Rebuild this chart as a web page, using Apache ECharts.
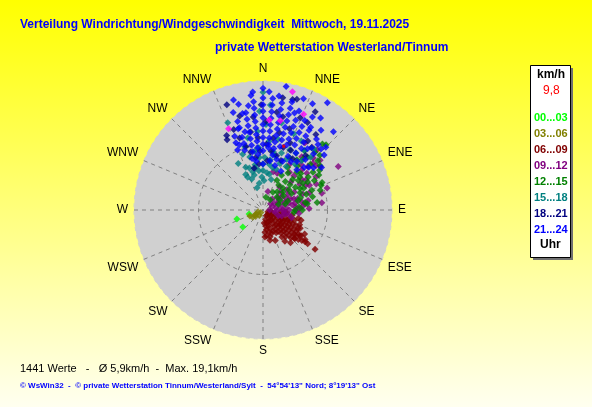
<!DOCTYPE html>
<html lang="de">
<head>
    <meta charset="UTF-8">
    <title>Verteilung Windrichtung/Windgeschwindigkeit</title>
    <script src="https://cdn.jsdelivr.net/npm/echarts@6/dist/echarts.min.js"></script>
    <style>
        body, html { margin: 0; padding: 0; width: 100%; height: 100%; }
        #chart { width: 592px; height: 407px; }
    </style>
</head>
<body>
<div id="chart"></div>
<script>
    // Himmelsrichtungen (Winkelachse, 22,5° Schritte)
    const directions = ['N', 'NNE', 'NE', 'ENE', 'E', 'ESE', 'SE', 'SSE',
                        'S', 'SSW', 'SW', 'WSW', 'W', 'WNW', 'NW', 'NNW'];
    // Uhrzeit-Klassen der Legende
    const timeBands = ['00...03', '03...06', '06...09', '09...12',
                       '12...15', '15...18', '18...21', '21...24'];
    const ringValue = 9.8;     // km/h pro Ring
    const maxSpeed = 19.6;

    // Messwerte: [Geschwindigkeit km/h, Richtung °]
    const h00_03 = [[4.2, 251], [4.0, 230], [2.2, 254]];
    const h03_06 = [[1.9, 235], [1.2, 240], [0.5, 220], [1.5, 228], [2.2, 245], [0.8, 250], [1.0, 215], [1.45, 238]];
    const h06_09 = [[9.9, 127], [8.0, 127], [6.4, 132], [6.2, 128], [6.3, 116], [4.7, 167], [3.4, 175], [4.1, 176],
        [3.5, 155], [3.4, 131], [1, 120], [1.5, 135], [2, 110], [2, 125], [2, 140], [2, 155], [2.5, 170], [2.5, 118],
        [3, 105], [3, 130], [3, 145], [3, 160], [3.5, 120], [4, 112], [4, 125], [4, 138], [4, 150], [4.5, 130],
        [4.5, 118], [5, 122], [5, 135], [5, 145], [5.5, 128], [5.5, 115], [6, 122], [6, 135], [6.8, 125], [7, 130],
        [7.3, 120], [7.5, 128], [1, 150], [1.5, 165], [2, 175], [1.2, 100], [2.8, 95], [3.6, 100], [4.2, 108],
        [5, 108], [3.8, 160], [4.2, 165], [5, 158], [5.3, 140], [6.5, 140], [6, 112], [3.2, 115], [2.4, 132], [1.8, 145],
        [1.5, 110], [1.5, 125], [2.5, 105], [2.5, 145], [2.5, 160], [3, 115], [3, 122], [3, 138], [3.5, 112],
        [3.5, 128], [3.5, 138], [3.5, 148], [4, 118], [4, 132], [4, 145], [4.5, 112], [4.5, 124], [4.5, 136],
        [4.5, 142], [5, 115], [5, 128], [5.5, 122], [5.5, 134], [6, 118], [6, 128], [6.5, 124], [6.5, 132], [7, 124],
        [7.8, 125], [8.5, 127], [3, 170], [3.5, 165], [2, 165], [4, 172], [1, 135], [0.8, 110], [5.8, 145],
        [3.5, 95], [4.5, 100], [5.5, 103], [6, 105]];
    const h09_12 = [[13.2, 60], [10.9, 53], [12, 32], [12.1, 38], [12.3, 42], [10.3, 71], [9.3, 74], [8.7, 50],
        [4.8, 50], [4.3, 36], [2.9, 15], [6, 15], [10.4, 47], [9, 83], [6, 21], [11, 44], [9.5, 58], [8, 62],
        [7.5, 70], [6.8, 55], [6, 45], [5.5, 60], [5, 70], [4.5, 80], [4, 90], [3.5, 100], [3, 75], [2.5, 85],
        [2, 60], [1.5, 70], [1, 90], [2.5, 110], [3.2, 95], [4, 65], [5, 85], [6, 78], [3.5, 55], [4.5, 58],
        [2.2, 40], [1.8, 100], [3, 108], [5.5, 95], [7, 88], [7.5, 52], [9, 40], [10, 36], [8, 30], [7, 42],
        [1.5, 50], [2, 80], [2, 95], [2.5, 65], [3, 50], [3, 90], [3.5, 70], [3.5, 85], [4, 75], [4, 100],
        [4.5, 68], [5, 78], [5, 92], [5.5, 72], [5.5, 88], [6, 85], [6.5, 82], [6.5, 68], [7, 78], [4.5, 105],
        [3.8, 45], [2.8, 58], [7, 35], [8.5, 44], [9.5, 46], [10.5, 50], [11.5, 49], [8, 55], [9, 64], [7.5, 60]];
    const h12_15 = [[13.8, 44], [13.5, 42], [11.2, 48], [9.9, 65], [8.3, 82], [6.5, 80], [4.9, 90], [4.7, 94],
        [6.2, 65], [7.3, 56], [8.5, 54], [5.6, 47], [4.1, 48], [2.9, 47], [1.9, 35], [2, 13], [3.1, 29], [6.8, 34],
        [7.7, 42], [9.5, 53], [9.2, 71], [8.9, 27], [9.2, 34], [10.5, 40], [10, 46], [8, 46], [7, 62], [6, 72],
        [5, 60], [3.8, 55], [3.5, 38], [4.5, 32], [5.5, 38], [6.5, 44], [7.5, 48], [8.5, 38], [10.5, 55], [11, 35],
        [12, 38], [9.6, 67], [6.8, 82], [5.5, 75], [7.8, 75],
        [3, 60], [4, 70], [5, 52], [6, 55], [6.5, 60], [7, 50], [8, 58], [9, 60], [10, 58], [11, 52], [12, 46],
        [7, 70], [8, 68], [5.5, 85], [6, 90], [3.5, 75], [2.5, 70], [4.5, 42], [5, 25], [6, 28], [7.5, 30],
        [9.8, 38], [11.8, 42]];
    const h15_18 = [[17.9, 0], [16, 4], [14.3, 338], [15, 358], [13, 2], [12, 356], [11.2, 348], [10, 344],
        [9, 340], [8.3, 346], [7, 338], [6.7, 342], [5.5, 346], [4.1, 352], [5.7, 6], [7.7, 8], [6.6, 13], [9.1, 18],
        [12, 29], [12.1, 40], [10.8, 42], [10, 30], [8.5, 25], [7.5, 20], [9, 352], [8, 356], [7, 0], [6, 354],
        [6, 334], [8, 332], [9.5, 356], [10.5, 5], [11, 12], [8, 2], [9, 10], [7, 350], [5, 358], [6.5, 350],
        [10, 24], [11, 35], [12.5, 22], [13.5, 12],
        [5, 340], [6, 345], [4.5, 2], [5.5, 10], [6.5, 18], [7.5, 28], [8.5, 35], [9.5, 38], [4.8, 15], [6, 0],
        [7, 8], [8.5, 12], [3.5, 345], [5.5, 335]];
    const h18_21 = [[16.9, 341], [14.7, 346], [12.6, 334], [12.0, 333], [14.2, 354], [17.3, 10], [17.4, 15],
        [15.1, 22], [16.9, 28], [14.9, 27], [17.6, 17], [13, 340], [11.5, 342], [10, 345], [9, 348], [8, 352],
        [9, 357], [10, 3], [11, 8], [12, 12], [13, 18], [11, 22], [10, 25], [9, 30], [12.5, 33], [14, 35],
        [10.5, 38], [8.5, 14], [7.5, 5], [7, 355], [6.5, 348], [13.5, 2], [15, 8], [16, 359], [12, 351], [11, 356],
        [14.5, 12], [10, 18], [9, 8], [8, 20]];
    const h21_24 = [[19.1, 10.6], [19.0, 31], [18.0, 355], [17.5, 354], [18.5, 0], [17.8, 25], [16.5, 32], [16.0, 42],
        [12.8, 43.5], [17.3, 345], [15.0, 348], [12.9, 343], [9.9, 337], [12.2, 347],
        [17, 0], [16, 0], [15, 0], [14, 0], [13, 0], [12, 0], [11, 0], [10, 0], [9, 0],
        [16.5, 355], [15.5, 355], [14.5, 355], [13.5, 355], [12.5, 355], [11.5, 355], [10.5, 355], [9.5, 355], [8.5, 355],
        [15, 350], [14, 350], [13, 350], [12, 350], [11, 350], [10, 350], [9, 350],
        [14, 344], [13, 344], [11.5, 344], [10.5, 344], [9.5, 343], [12, 339], [11, 338], [10.5, 340],
        [16, 5], [15, 5], [14, 5], [13, 5], [12, 5], [11, 5], [10, 5], [9.5, 5],
        [16.5, 10], [15.5, 10], [14.5, 10], [13.5, 10], [12.5, 10], [11.5, 10], [10.5, 10], [9.5, 10],
        [17, 15], [15, 15], [14, 15], [13, 15], [12, 15], [11, 15], [10, 15],
        [16, 20], [14.5, 20], [13.5, 20], [12.5, 20], [11.5, 20], [10.5, 20],
        [15, 25], [14, 25], [13, 25], [12, 25], [11, 26], [14.5, 30], [13, 30], [12, 31], [11, 32],
        [15, 36], [13.5, 37], [12, 38], [13, 40], [11.5, 42],
        [7.5, 352], [7, 0], [7.5, 8], [7, 15], [8, 22], [8.5, 30], [6.5, 25], [9, 35], [8, 40], [11, 54], [10, 50], [9.5, 47],
        [18, 3], [17.5, 8], [18, 20], [16, 28], [16, 15], [17, 5], [15.5, 18], [14, 30], [13.5, 45], [12.5, 48],
        [11.5, 36], [10, 40], [9, 44], [8.5, 10], [8, 15], [9, 25], [10, 30], [8, 348], [16.5, 347], [15.5, 343], [16, 352]];
    const extraPoints = [[18.5, 14], [15.8, 23], [13.7, 4], [13.8, 11], [13.4, 337]];
    const meanPoint = [[10.2, 18]];

    const bandData = [h00_03, h03_06, h06_09, h09_12, h12_15, h15_18, h18_21, h21_24];
    const bandColors = ['#00ff00', '#808000', '#800000', '#800080', '#008000', '#008080', '#000080', '#0000ff'];

    const FONT = '"Liberation Sans", Arial, sans-serif';
    const chart = echarts.init(document.getElementById('chart'));

    const series = timeBands.map(function (name, i) {
        return {
            name: name,
            type: 'scatter',
            coordinateSystem: 'polar',
            symbol: 'diamond',
            symbolSize: 7,
            data: bandData[i],
            itemStyle: { color: bandColors[i] },
            silent: true
        };
    });
    series.push({
        type: 'scatter', coordinateSystem: 'polar', symbol: 'diamond', symbolSize: 7,
        data: extraPoints, itemStyle: { color: '#ff00ff' }, silent: true
    });
    series.push({
        type: 'scatter', coordinateSystem: 'polar', symbol: 'rect', symbolSize: 3,
        data: meanPoint, itemStyle: { color: '#ff0000' }, silent: true
    });

    // Legende rechts
    const legendItems = [
        { type: 'text', left: 537, top: 69, style: { text: 'km/h', fill: '#000', font: 'bold 12px ' + FONT } },
        { type: 'text', left: 543, top: 85, style: { text: String(ringValue).replace('.', ','), fill: '#ff0000', font: '12px ' + FONT } }
    ];
    timeBands.forEach(function (name, i) {
        legendItems.push({
            type: 'text', left: 534, top: 112 + i * 16,
            style: { text: name, fill: bandColors[i], font: 'bold 11px ' + FONT }
        });
    });
    legendItems.push({ type: 'text', left: 540, top: 239, style: { text: 'Uhr', fill: '#000', font: 'bold 12px ' + FONT } });

    const option = {
        animation: false,
        backgroundColor: new echarts.graphic.LinearGradient(0, 0, 0, 1, [
            { offset: 0, color: '#ffff00' },
            { offset: 1, color: '#fffff0' }
        ]),
        polar: { center: [263, 210], radius: 129 },
        angleAxis: {
            type: 'value',
            min: 0,
            max: 360,
            interval: 22.5,
            startAngle: 90,
            clockwise: true,
            axisLine: { show: false },
            axisTick: { show: false },
            axisLabel: {
                margin: 6,
                color: '#000',
                fontSize: 12,
                fontFamily: FONT,
                formatter: function (v) { return directions[Math.round(v / 22.5) % 16]; }
            },
            splitLine: { show: true, lineStyle: { color: '#808080', width: 1, type: [4, 4] } }
        },
        radiusAxis: {
            min: 0,
            max: maxSpeed,
            interval: ringValue,
            axisLine: { show: false },
            axisTick: { show: false },
            axisLabel: { show: false },
            splitLine: { show: true, lineStyle: { color: ['#808080', '#808080', '#d0d0d0'], width: 1, type: [4, 4] } }
        },
        graphic: [
            // grauer Hintergrund der Windrose
            { type: 'circle', z: -10, shape: { cx: 263, cy: 210, r: 129 }, style: { fill: '#d0d0d0' } },
            { type: 'text', left: 20, top: 19, style: { text: 'Verteilung Windrichtung/Windgeschwindigkeit  Mittwoch, 19.11.2025', fill: '#0000ff', font: 'bold 12px ' + FONT } },
            { type: 'text', left: 215, top: 42, style: { text: 'private Wetterstation Westerland/Tinnum', fill: '#0000ff', font: 'bold 12px ' + FONT } },
            { type: 'rect', shape: { x: 533, y: 68, width: 40, height: 192 }, style: { fill: '#707070' } },
            { type: 'rect', shape: { x: 530.5, y: 65.5, width: 40, height: 192 }, style: { fill: '#ffffff', stroke: '#000', lineWidth: 1 } },
            { type: 'group', children: legendItems },
            { type: 'text', left: 20, top: 363, style: { text: '1441 Werte   -   Ø 5,9km/h  -  Max. 19,1km/h', fill: '#000', font: '11px ' + FONT } },
            { type: 'text', left: 20, top: 382, style: { text: '© WsWin32  -  © private Wetterstation Tinnum/Westerland/Sylt  -  54°54\'13" Nord; 8°19\'13" Ost', fill: '#0000ff', font: 'bold 8px ' + FONT } }
        ],
        series: series
    };
    chart.setOption(option);
</script>
</body>
</html>
